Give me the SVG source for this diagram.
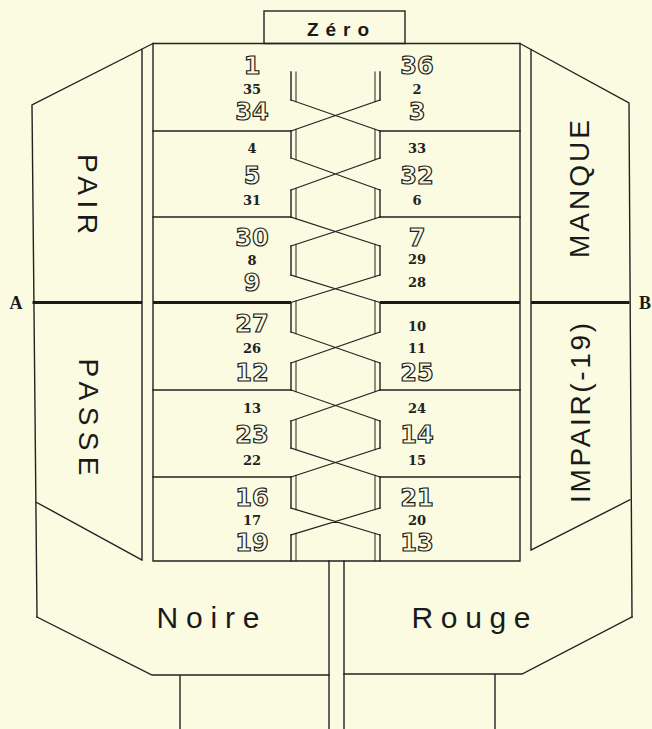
<svg xmlns="http://www.w3.org/2000/svg" width="652" height="729" viewBox="0 0 652 729">
<style>
.ln{fill:none;stroke:#222;stroke-width:1.4;stroke-linecap:square}
.bold{fill:none;stroke:#1a1a1a;stroke-width:3}
.big{font-family:"DejaVu Sans",sans-serif;font-weight:bold;font-size:24px;fill:#fbfbe1;stroke:#222;stroke-width:1.2;text-anchor:middle}
.sm{font-family:"DejaVu Serif",serif;font-weight:bold;font-size:13px;fill:#222;text-anchor:middle}
.lab{font-family:"Liberation Sans",Arial,sans-serif;font-size:28px;fill:#1a1a1a;text-anchor:middle}
.bot{font-family:"Liberation Sans",Arial,sans-serif;font-size:30px;fill:#1a1a1a;text-anchor:middle}
.ab{font-family:"Liberation Serif",serif;font-weight:bold;font-size:18px;fill:#1a1a1a;text-anchor:middle}
</style>
<rect width="652" height="729" fill="#fbfbe1"/>

<g id="zero">
<rect x="264" y="11" width="141" height="32.5" class="ln"/>
<text x="338" y="35.5" font-family="Liberation Sans,Arial,sans-serif" font-weight="bold" font-size="19" fill="#1a1a1a" text-anchor="middle" textLength="62" lengthAdjust="spacing">Zéro</text>
</g>

<g id="left-panel">
<path class="ln" d="M37 617L32 105L153 43.5M142 49V560M35.9 502L142 560"/>
<path class="bold" d="M32.5 302.5H142"/>
<text class="ab" x="16" y="309">A</text>
<g id="pair"><text class="lab" transform="translate(88,194) rotate(90)" x="0" y="10" textLength="80" lengthAdjust="spacing">PAIR</text></g>
<g id="passe"><text class="lab" transform="translate(89,417) rotate(90)" x="0" y="10" textLength="117" lengthAdjust="spacing">PASSE</text></g>
</g>

<g id="right-panel">
<path class="ln" d="M632 617L629 103L520 43.5M531 49.5V550M629.6 500L531 550"/>
<path class="bold" d="M531 302.5H629.5"/>
<text class="ab" x="645" y="309">B</text>
<g id="manque"><text class="lab" transform="translate(579,189) rotate(-90)" x="0" y="10" textLength="138" lengthAdjust="spacing">MANQUE</text></g>
<g id="impair"><text class="lab" transform="translate(580,413) rotate(-90)" x="0" y="10" textLength="180" lengthAdjust="spacing">IMPAIR(-19)</text></g>
</g>

<g id="main-box">
<path class="ln" d="M153 43.5H520M153 43.5V561M520 43.5V561M153 561H520"/>
<path class="ln" d="M153 131H291M380 131H520M153 217H291M380 217H520M153 390H291M380 390H520M153 477H291M380 477H520"/>
<path class="bold" d="M153 302.5H291M380 302.5H520"/>
</g>

<g id="braid">
<path class="ln" d="M291 72V100M291 131V158M291 190V217M291 246V275M291 302.5V332M291 363V390M291 421V448M291 477V508M291 535V561"/>
<path class="ln" d="M380 72V100M380 131V158M380 190V217M380 246V275M380 302.5V332M380 363V390M380 421V448M380 477V508M380 535V561"/>
<path class="ln" style="stroke-width:1" d="M296 72V101.7M296 129.3V159.7M296 188.3V218.7M296 244.3V276.7M296 300.8V333.7M296 361.3V391.7M296 419.3V449.7M296 475.3V509.7M296 533.3V561"/>
<path class="ln" style="stroke-width:1" d="M375 72V101.7M375 129.3V159.7M375 188.3V218.7M375 244.3V276.7M375 300.8V333.7M375 361.3V391.7M375 419.3V449.7M375 475.3V509.7M375 533.3V561"/>
<path class="ln" style="stroke-width:1.2" d="M291 100L380 131M380 100L291 131M291 158L380 190M380 158L291 190M291 217L380 246M380 217L291 246M291 275L380 302.5M380 275L291 302.5M291 332L380 363M380 332L291 363M291 390L380 421M380 390L291 421M291 448L380 477M380 448L291 477M291 508L380 535M380 508L291 535"/>
</g>

<g id="row1">
<text class="big" x="252" y="73.8">1</text><text class="sm" x="252" y="93.7">35</text><text class="big" x="252" y="119.8">34</text>
<text class="big" x="417" y="73.8">36</text><text class="sm" x="417" y="93.7">2</text><text class="big" x="417" y="119.8">3</text>
</g>
<g id="row2">
<text class="sm" x="252" y="152.7">4</text><text class="big" x="252" y="183.8">5</text><text class="sm" x="252" y="204.7">31</text>
<text class="sm" x="417" y="152.7">33</text><text class="big" x="417" y="183.8">32</text><text class="sm" x="417" y="204.7">6</text>
</g>
<g id="row3">
<text class="big" x="252" y="245.8">30</text><text class="sm" x="252" y="264.7">8</text><text class="big" x="252" y="290.8">9</text>
<text class="big" x="417" y="245.8">7</text><text class="sm" x="417" y="263.7">29</text><text class="sm" x="417" y="286.7">28</text>
</g>
<g id="row4">
<text class="big" x="252" y="331.8">27</text><text class="sm" x="252" y="352.7">26</text><text class="big" x="252" y="380.8">12</text>
<text class="sm" x="417" y="330.7">10</text><text class="sm" x="417" y="352.7">11</text><text class="big" x="417" y="380.8">25</text>
</g>
<g id="row5">
<text class="sm" x="252" y="412.7">13</text><text class="big" x="252" y="442.8">23</text><text class="sm" x="252" y="464.7">22</text>
<text class="sm" x="417" y="412.7">24</text><text class="big" x="417" y="442.8">14</text><text class="sm" x="417" y="464.7">15</text>
</g>
<g id="row6">
<text class="big" x="252" y="505.8">16</text><text class="sm" x="252" y="524.7">17</text><text class="big" x="252" y="550.8">19</text>
<text class="big" x="417" y="505.8">21</text><text class="sm" x="417" y="524.7">20</text><text class="big" x="417" y="550.8">13</text>
</g>

<g id="noire">
<path class="ln" d="M37 617L152 675H329M180 675V729"/>
<text class="bot" x="208" y="628" textLength="103" lengthAdjust="spacing">Noire</text>
</g>
<g id="rouge">
<path class="ln" d="M632 617L522 674H344M495 674V729"/>
<text class="bot" x="471" y="628" textLength="119" lengthAdjust="spacing">Rouge</text>
</g>
<g id="stem">
<path class="ln" d="M329 561V729M344 561V729"/>
</g>
</svg>
